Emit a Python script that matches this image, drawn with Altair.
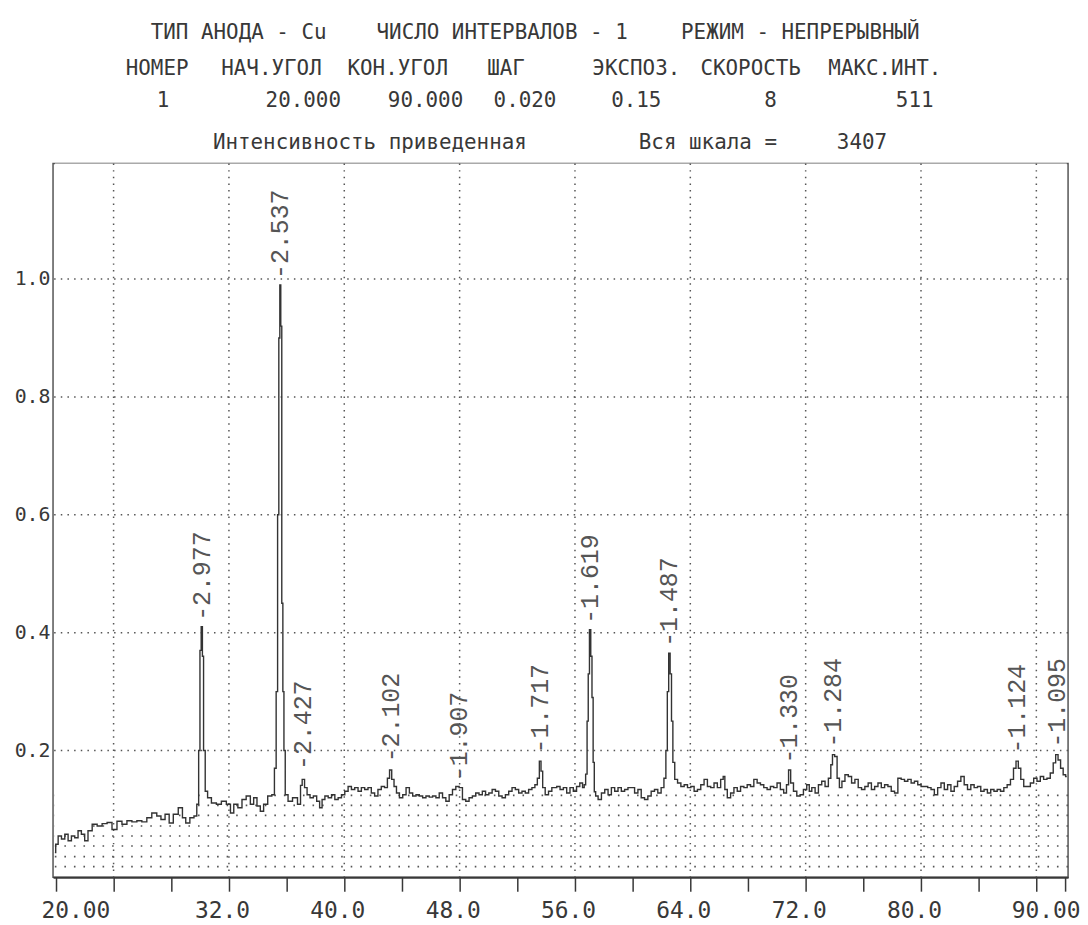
import altair as alt
import pandas as pd

# ---------------- data ----------------
two_theta = [
    19.93, 20.04, 20.27, 20.50, 20.73, 20.96, 21.19, 21.42, 21.65, 21.88, 22.11, 22.34, 22.69, 23.03,
    23.38, 23.72, 24.06, 24.41, 24.75, 25.10, 25.44, 25.79, 26.13, 26.48, 26.82, 27.17, 27.40, 27.74,
    27.97, 28.31, 28.66, 28.89, 29.12, 29.46, 29.69,
    29.85, 29.95, 30.03, 30.12, 30.20, 30.28, 30.43,
    30.61, 30.96, 31.30, 31.65, 31.99, 32.22, 32.45, 32.79, 33.02, 33.37, 33.60, 33.83, 34.06, 34.29,
    34.52, 34.86, 35.09,
    35.22, 35.33, 35.42, 35.50, 35.56, 35.63, 35.70, 35.78, 35.85, 35.96,
    36.24, 36.58, 36.93,
    37.00, 37.16, 37.33, 37.51, 37.74, 37.97, 38.20, 38.38, 38.54, 38.77, 39.00, 39.23, 39.46, 39.69,
    39.92, 40.15, 40.38, 40.61, 40.84, 41.07, 41.30, 41.53, 41.76, 41.99, 42.22, 42.45, 42.68, 42.91,
    43.07, 43.21, 43.37, 43.53, 43.71, 43.94, 44.17, 44.40, 44.63, 44.86, 45.09, 45.32, 45.55, 45.78,
    46.01, 46.24, 46.47, 46.70, 46.93, 47.16, 47.39, 47.62, 47.85, 48.08, 48.31, 48.54, 48.77, 49.00,
    49.23, 49.46, 49.69, 49.91, 50.14, 50.37, 50.60, 50.83, 51.06, 51.29, 51.52, 51.75, 51.98, 52.21,
    52.44, 52.67, 52.90, 53.13, 53.31, 53.47, 53.59, 53.70, 53.82, 54.05, 54.28, 54.51,
    54.62, 54.85, 55.08, 55.31, 55.54, 55.77, 56.00, 56.22, 56.45, 56.60, 56.68,
    56.80, 56.88, 56.96, 57.05, 57.14, 57.22, 57.30, 57.38,
    57.49, 57.72, 57.95, 58.18, 58.41, 58.64, 58.87, 59.10, 59.33, 59.56, 59.79, 60.02, 60.25, 60.48,
    60.71, 60.94, 61.17, 61.40, 61.63, 61.86, 62.09, 62.25,
    62.36, 62.45, 62.55, 62.65, 62.74, 62.84, 63.00,
    63.23, 63.46, 63.69, 63.92, 64.15, 64.38, 64.61, 64.84, 65.07, 65.30, 65.53, 65.76, 65.99, 66.22,
    66.34, 66.45, 66.68, 66.91, 67.14, 67.37, 67.60, 67.83, 68.06, 68.29, 68.52, 68.75, 68.98, 69.21,
    69.44, 69.67, 69.90, 70.13, 70.36, 70.59, 70.75, 70.88, 71.04, 71.27, 71.50, 71.73, 71.96, 72.19,
    72.31, 72.54, 72.77, 73.00, 73.23, 73.46, 73.69, 73.80, 73.92, 74.10, 74.26, 74.42, 74.61, 74.84,
    75.07, 75.30, 75.53, 75.76, 75.99, 76.22, 76.45, 76.67, 76.90, 77.13, 77.36, 77.59, 77.82, 78.05,
    78.28, 78.51, 78.74, 78.97, 79.20, 79.43, 79.66, 79.89, 80.12, 80.35, 80.58, 80.81, 81.04, 81.27,
    81.50, 81.73, 81.96, 82.19, 82.42, 82.65, 82.88, 83.11, 83.34, 83.57, 83.80, 84.03, 84.26, 84.49,
    84.72, 84.95, 85.17, 85.40, 85.63, 85.86, 86.09, 86.32, 86.51, 86.67, 86.83, 87.01, 87.24, 87.47,
    87.70, 87.93, 88.16, 88.39, 88.62, 88.85, 89.08, 89.26, 89.42, 89.59, 89.77, 89.95, 90.11,
]
intensity = [
    0.027, 0.041, 0.055, 0.050, 0.058, 0.047, 0.055, 0.052, 0.064, 0.058, 0.047, 0.064, 0.075, 0.072,
    0.076, 0.078, 0.066, 0.080, 0.075, 0.081, 0.079, 0.081, 0.079, 0.086, 0.094, 0.089, 0.083, 0.092,
    0.077, 0.092, 0.103, 0.086, 0.077, 0.086, 0.089,
    0.109, 0.200, 0.370, 0.410, 0.360, 0.200, 0.131,
    0.120, 0.111, 0.109, 0.114, 0.109, 0.094, 0.109, 0.103, 0.117, 0.123, 0.109, 0.120, 0.106, 0.097,
    0.109, 0.123, 0.125,
    0.170, 0.300, 0.600, 0.900, 0.990, 0.920, 0.450, 0.300, 0.200, 0.125,
    0.114, 0.120, 0.109,
    0.141, 0.151, 0.137, 0.125, 0.120, 0.123, 0.114, 0.103, 0.117, 0.123, 0.120, 0.125, 0.117, 0.120,
    0.125, 0.131, 0.139, 0.134, 0.137, 0.131, 0.137, 0.134, 0.137, 0.128, 0.123, 0.134, 0.139, 0.137,
    0.153, 0.167, 0.151, 0.139, 0.128, 0.120, 0.125, 0.137, 0.128, 0.123, 0.125, 0.123, 0.120, 0.123,
    0.121, 0.123, 0.120, 0.128, 0.120, 0.114, 0.125, 0.134, 0.139, 0.137, 0.117, 0.114, 0.120, 0.123,
    0.128, 0.125, 0.131, 0.125, 0.128, 0.134, 0.131, 0.123, 0.120, 0.125, 0.131, 0.137, 0.134, 0.128,
    0.131, 0.128, 0.134, 0.137, 0.142, 0.153, 0.182, 0.165, 0.137, 0.125, 0.131, 0.137,
    0.137, 0.139, 0.134, 0.137, 0.128, 0.137, 0.131, 0.139, 0.145, 0.137, 0.142,
    0.160, 0.250, 0.330, 0.405, 0.360, 0.290, 0.180, 0.130,
    0.123, 0.117, 0.128, 0.134, 0.125, 0.137, 0.131, 0.137, 0.131, 0.134, 0.137, 0.137, 0.128, 0.134,
    0.120, 0.117, 0.123, 0.131, 0.134, 0.128, 0.137, 0.153,
    0.200, 0.300, 0.365, 0.330, 0.250, 0.180, 0.151,
    0.145, 0.139, 0.142, 0.137, 0.139, 0.131, 0.134, 0.142, 0.151, 0.139, 0.137, 0.145, 0.137, 0.151,
    0.156, 0.134, 0.120, 0.128, 0.137, 0.131, 0.139, 0.137, 0.142, 0.139, 0.151, 0.145, 0.142, 0.137,
    0.134, 0.139, 0.137, 0.145, 0.134, 0.128, 0.142, 0.167, 0.145, 0.131, 0.123, 0.125, 0.134, 0.142,
    0.131, 0.137, 0.128, 0.142, 0.148, 0.139, 0.153, 0.176, 0.193, 0.190, 0.153, 0.137, 0.148, 0.159,
    0.156, 0.145, 0.151, 0.137, 0.134, 0.139, 0.145, 0.134, 0.139, 0.145, 0.137, 0.142, 0.139, 0.131,
    0.128, 0.153, 0.151, 0.148, 0.151, 0.145, 0.148, 0.142, 0.139, 0.139, 0.137, 0.134, 0.125, 0.137,
    0.145, 0.134, 0.142, 0.131, 0.139, 0.148, 0.156, 0.142, 0.134, 0.142, 0.137, 0.139, 0.131, 0.134,
    0.128, 0.134, 0.131, 0.134, 0.131, 0.137, 0.142, 0.151, 0.170, 0.182, 0.170, 0.151, 0.139, 0.139,
    0.145, 0.153, 0.148, 0.156, 0.151, 0.153, 0.162, 0.179, 0.193, 0.184, 0.170, 0.159, 0.156,
]

peak_d = ["2.977", "2.537", "2.427", "2.102", "1.907", "1.717",
          "1.619", "1.487", "1.330", "1.284", "1.124", "1.095"]
peak_pos = [30.12, 35.56, 37.16, 43.21, 47.95, 53.59, 57.05, 62.55, 70.88, 73.92, 86.67, 89.42]
peak_label_base = [0.420, 1.000, 0.167, 0.180, 0.148, 0.195, 0.415, 0.376, 0.178, 0.205, 0.195, 0.205]

grid_y = [0.2, 0.4, 0.6, 0.8, 1.0]
grid_x = [24, 32, 40, 48, 56, 64, 72, 80, 88]
fill_rows = [0.003, 0.020, 0.038, 0.055, 0.072, 0.090, 0.107, 0.124]
x_ticks = [20, 24, 28, 32, 36, 40, 44, 48, 52, 56, 60, 64, 68, 72, 76, 80, 84, 88, 90]
y_ticks = [0.2, 0.4, 0.6, 0.8, 1.0]

header_line1 = ["ТИП АНОДА - Cu", "ЧИСЛО ИНТЕРВАЛОВ - 1", "РЕЖИМ - НЕПРЕРЫВНЫЙ"]
header_cols = ["НОМЕР", "НАЧ.УГОЛ", "КОН.УГОЛ", "ШАГ", "ЭКСПОЗ.", "СКОРОСТЬ", "МАКС.ИНТ."]
header_vals = ["1", "20.000", "90.000", "0.020", "0.15", "8", "511"]
scale_texts = ["Интенсивность приведенная", "Вся шкала =", "3407"]

# ---------------- layout / style ----------------
X_DOMAIN = [19.8, 90.2]
Y_DOMAIN = [-0.015, 1.196]
W, H = 1021, 718
PAD_L, PAD_T = 45.3, 153.7
INK = "#383838"
MONO = "DejaVu Sans Mono, Liberation Mono, monospace"
LMONO = "Liberation Mono, DejaVu Sans Mono, monospace"

xs = alt.Scale(domain=X_DOMAIN, nice=False, zero=False)
ys = alt.Scale(domain=Y_DOMAIN, nice=False, zero=False)

x_axis = alt.Axis(
    values=x_ticks, title=None, grid=False,
    labelExpr="datum.value == 20 ? '20.00' : datum.value == 90 ? '90.00' : "
              "(datum.value >= 32 && datum.value <= 80 && datum.value % 8 == 0) ? format(datum.value, '.1f') : ''",
    tickSize=14, tickWidth=1.5, tickColor=INK, domainColor=INK, domainWidth=2,
    labelFont=MONO, labelFontSize=23, labelColor=INK, labelPadding=8,
    labelFlush=10, labelFlushOffset=15, labelOverlap=False,
    labelOffset={"condition": {"test": "datum.value == 20 || datum.value == 90", "value": 0}, "value": -7},
)
y_axis = alt.Axis(
    values=y_ticks, format=".1f", title=None, grid=False, domain=False, ticks=False,
    labelFont=MONO, labelFontSize=20, labelColor=INK, labelPadding=3,
)
X = alt.X("tt:Q", scale=xs, axis=x_axis)
Y = alt.Y("i:Q", scale=ys, axis=y_axis)

curve = alt.Chart(pd.DataFrame({"tt": two_theta, "i": intensity}))

rows = alt.Chart(pd.DataFrame({"i": fill_rows})).mark_rule(
    color="#555", strokeWidth=1.6, strokeDash=[1.6, 8]).encode(y=Y)

mask = curve.mark_area(color="white", opacity=1, interpolate="step").encode(
    x=X, y=Y, y2=alt.datum(Y_DOMAIN[1]))

hgrid = alt.Chart(pd.DataFrame({"i": grid_y})).mark_rule(
    color="#555", strokeWidth=1.5, strokeDash=[1.5, 5.2]).encode(y=Y)
vgrid = alt.Chart(pd.DataFrame({"tt": grid_x})).mark_rule(
    color="#555", strokeWidth=1.5, strokeDash=[1.5, 5.2]).encode(x=X)

line = curve.mark_line(color="#333", strokeWidth=1.4, interpolate="step").encode(x=X, y=Y)

labels = alt.Chart(pd.DataFrame({
    "tt": peak_pos, "i": peak_label_base, "t": ["-" + d for d in peak_d]
})).mark_text(angle=270, align="left", baseline="middle", font=LMONO,
              fontSize=25, color="#555").encode(x=X, y=Y, text="t:N")


def txt(s, x_page, y_page, size=21):
    return alt.Chart(pd.DataFrame({"t": [s]})).mark_text(
        align="center", baseline="middle", font=MONO, fontSize=size, color=INK
    ).encode(x=alt.value(x_page - 8 - PAD_L), y=alt.value(y_page - 8 - PAD_T), text="t:N")


line1_x = [240, 505, 805]
cols_x = [158, 273, 400, 509, 640, 755, 890]
vals_x = [164, 305, 428, 528, 640, 775, 920]
scale_x = [372, 712, 867]

header = []
header += [txt(s, x, 31) for s, x in zip(header_line1, line1_x)]
header += [txt(s, x, 67) for s, x in zip(header_cols, cols_x)]
header += [txt(s, x, 99) for s, x in zip(header_vals, vals_x)]
header += [txt(s, x, 141) for s, x in zip(scale_texts, scale_x)]

chart = alt.layer(rows, mask, hgrid, vgrid, line, labels, *header).properties(
    width=W, height=H,
    padding={"left": PAD_L, "top": PAD_T, "right": 12, "bottom": 43},
    autosize=alt.AutoSizeParams(type="none"),
    background="white",
).configure_view(stroke="#555", strokeWidth=1.5)

chart.save("out.html", embed_options={"renderer": "svg", "actions": False})
